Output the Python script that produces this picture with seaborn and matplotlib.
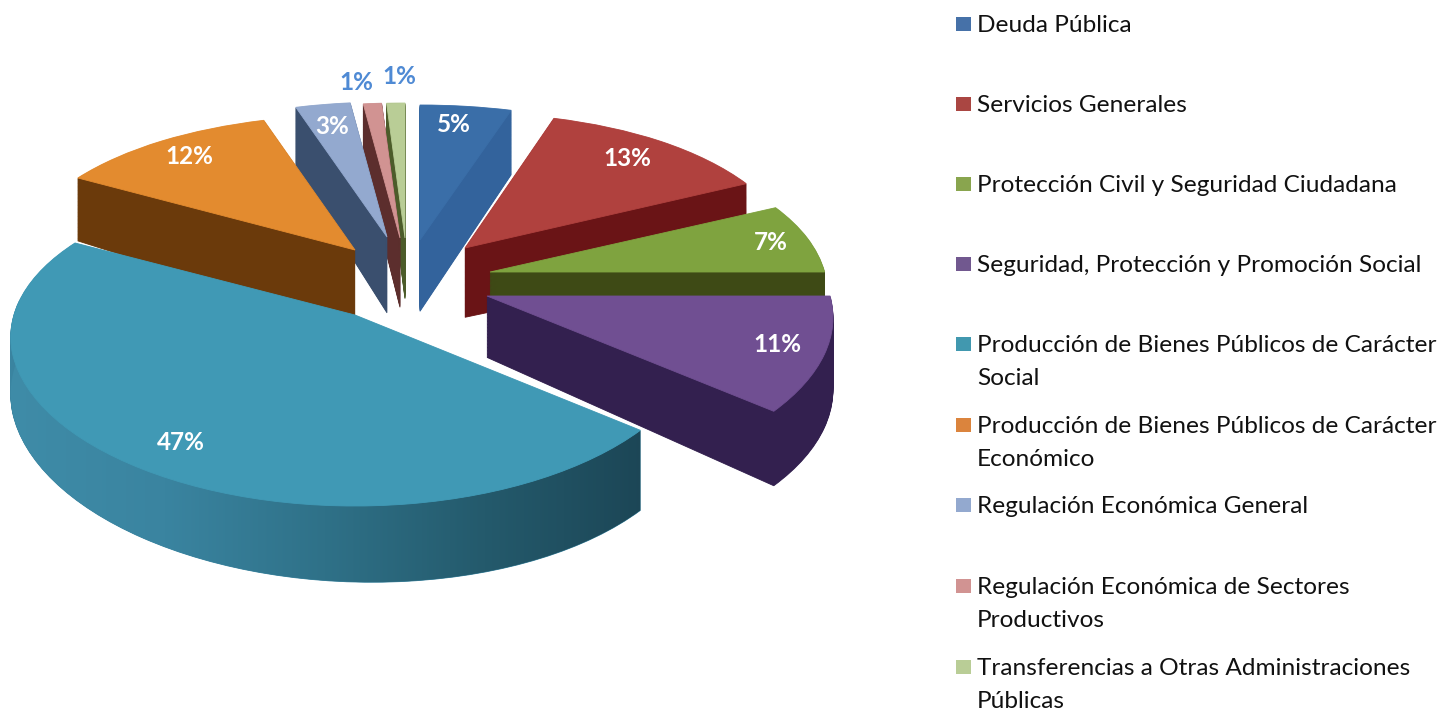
import numpy as np
import matplotlib
matplotlib.use('Agg')
import matplotlib.pyplot as plt
import matplotlib.transforms as mtransforms
from matplotlib.colors import LinearSegmentedColormap
import seaborn as sns

# data
categorias = ['Deuda Pública', 'Servicios Generales', 'Protección Civil y Seguridad Ciudadana',
              'Seguridad, Protección y Promoción Social',
              'Producción de Bienes Públicos de Carácter\nSocial',
              'Producción de Bienes Públicos de Carácter\nEconómico',
              'Regulación Económica General',
              'Regulación Económica de Sectores\nProductivos',
              'Transferencias a Otras Administraciones\nPúblicas']
valores = [5, 13, 7, 11, 47, 12, 3, 1, 1]

# estilos
color_cara = ['#3A6EA8', '#B0413E', '#7FA33F', '#704F92', '#4099B5', '#E38B2F', '#93A9CF', '#D19392', '#B9CD96']
color_pared = ['#33639C', '#6A1416', '#3E4A15', '#33204F', '#3A84A0', '#6B3A0B', '#3A4F6E', '#5C2E2D', '#4C5C2A']
color_leyenda = ['#4671A8', '#AA4642', '#89A54E', '#71588F', '#4198AF', '#DB843D', '#93A9CF', '#D19392', '#B9CD96']
color_etiqueta = ['white', 'white', 'white', 'white', 'white', 'white', 'white', '#4F8AD4', '#4F8AD4']

# vertice de cada rebanada en pixeles, escala en x, grosor relativo y orden de dibujo (atras -> adelante)
vertice = [(420, 240), (465, 248), (490, 272), (487, 296), (355, 315), (355, 250), (387, 237), (400, 238), (405, 238)]
escala = [1.0, 0.975, 0.99, 1.015, 1.01, 1.0, 1.0, 1.0, 1.0]
grosor = [1.08, 1.05, 1.0, 0.93, 1.0, 1.2, 1.15, 1.05, 0.92]
orden = [8, 7, 6, 0, 1, 2, 3, 5, 4]
pos_etiqueta = [(454, 125), (627, 159), (771, 242), (777, 345), (181, 443), (189, 157), (332, 127), (356, 82), (399, 77)]
y_leyenda = [24, 104, 184, 264, 344, 425, 505, 586, 667]
capas = 80

sns.set_theme(style='white')
plt.rcParams['font.family'] = ['Lato', 'DejaVu Sans']


class Perspectiva(mtransforms.Transform):
    # circulo unitario -> pixeles, con perspectiva (adelante mas grande) y grosor t
    input_dims = 2
    output_dims = 2
    has_inverse = False

    def __init__(self, i, t):
        super().__init__()
        self.vx, self.vy = vertice[i]
        self.k = escala[i]
        self.t = t * grosor[i]

    def transform_non_affine(self, xy):
        xy = np.asarray(xy, dtype=float)
        x, y = xy[:, 0], xy[:, 1]
        px = self.vx + self.k * x * (338 - 45 * y)
        py = self.vy - y * (163 - 28 * y) + self.t * (66 - 10 * y + 10 * x)
        return np.column_stack([px, py])


fig = plt.figure(figsize=(14.43, 7.10), dpi=100, facecolor='white')
ax = fig.add_axes([0, 0, 1, 1])

# paredes: muchas capas del mismo pie, de abajo hacia arriba, y al final la cara
for capa in range(capas + 1):
    t = 1 - capa / capas
    colores = color_cara if capa == capas else color_pared
    wedges, _ = ax.pie(valores, startangle=90, counterclock=False, colors=sns.color_palette(colores),
                       radius=1, wedgeprops=dict(linewidth=0.6))
    for i, w in enumerate(wedges):
        w.set_edgecolor(w.get_facecolor())
        w.set_transform(Perspectiva(i, t) + ax.transData)
        w.set_zorder(orden.index(i) * 100 + capa + (1 if capa == capas else 0))

# degradado horizontal de la pared grande
i_teal = valores.index(max(valores))
fin = 90 - np.cumsum(valores) * 3.6
theta = np.radians(np.linspace(fin[i_teal - 1], fin[i_teal], 120))
circulo = np.column_stack([np.cos(theta), np.sin(theta)])
arriba = Perspectiva(i_teal, 0).transform(circulo)
abajo = Perspectiva(i_teal, 1).transform(circulo)
cmap_pared = LinearSegmentedColormap.from_list('pared', ['#3F8CA8', '#3A84A0', '#2F7188', '#245A6C', '#1C4656'])
img = ax.imshow(np.linspace(0, 1, 256).reshape(1, -1), extent=(5, 645, 600, 300), aspect='auto',
                cmap=cmap_pared, zorder=orden.index(i_teal) * 100 + capas + 0.5)
img.set_clip_path(plt.Polygon(np.vstack([arriba, abajo[::-1]]), transform=ax.transData))

# etiquetas de porcentaje
for v, (x, y), c in zip(valores, pos_etiqueta, color_etiqueta):
    ax.text(x, y, f'{v}%', color=c, fontsize=17.5, fontweight='bold', ha='center', va='center', zorder=2000)

# leyenda
ax.scatter([963.5] * len(y_leyenda), y_leyenda, marker='s', s=112, c=color_leyenda, linewidths=0, zorder=2000)
for nombre, y in zip(categorias, y_leyenda):
    for j, linea in enumerate(nombre.split('\n')):
        ax.text(977, y + 8 + 33 * j, linea, color='#111111', fontsize=17.6, ha='left', va='baseline', zorder=2000)

ax.set_aspect('auto')
ax.set_xlim(0, 1443)
ax.set_ylim(710, 0)
ax.axis('off')
fig.savefig('out.png', dpi=100)
